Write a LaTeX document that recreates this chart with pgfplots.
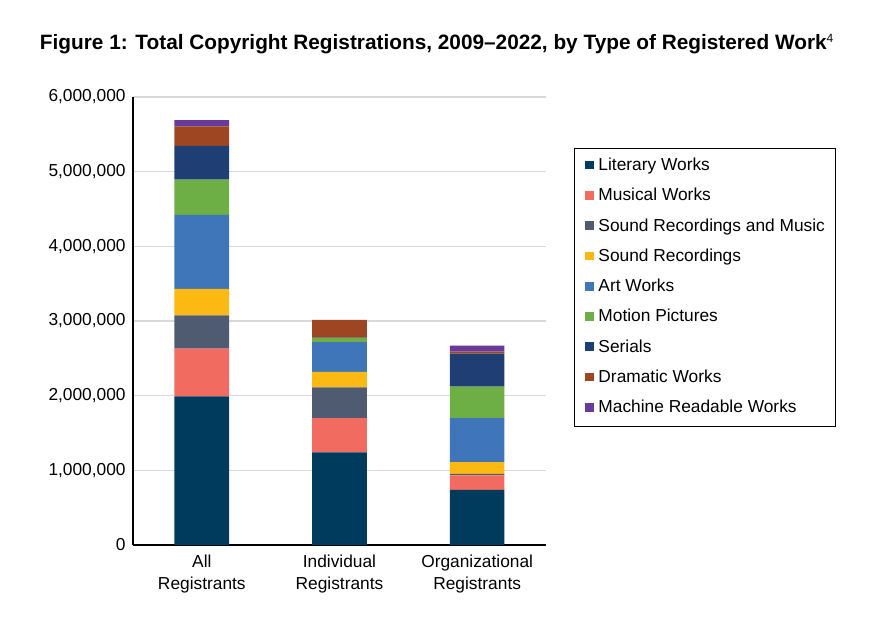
\documentclass[border=0pt]{standalone}
\usepackage{fontspec}
\setmainfont{Liberation Sans}
\usepackage{pgfplots}
\pgfplotsset{compat=1.18}

\definecolor{litc}{HTML}{003A5C}
\definecolor{musc}{HTML}{F26B61}
\definecolor{srmc}{HTML}{4F5B70}
\definecolor{sndc}{HTML}{FDB913}
\definecolor{artc}{HTML}{3F76BA}
\definecolor{motc}{HTML}{6DAE45}
\definecolor{serc}{HTML}{1F3F74}
\definecolor{drac}{HTML}{9E4521}
\definecolor{macc}{HTML}{6A3A9A}
\definecolor{gridc}{HTML}{D9D9D9}

\begin{document}
\begin{tikzpicture}[x=1pt,y=1pt]
\useasboundingbox (-99.75,-57.75) rectangle (558.75,408.75);
\begin{axis}[
    at={(0,0)}, anchor=south west,
    scale only axis,
    width=309.75pt, height=336pt,
    ybar stacked,
    bar width=41pt,
    xmin=-0.5, xmax=2.5,
    ymin=0, ymax=6000000,
    xtick={0,1,2},
    xticklabels={All\\Registrants, Individual\\Registrants, Organizational\\Registrants},
    xticklabel style={align=center, font=\fontsize{13}{16.5}\selectfont, yshift=-4pt},
    ytick={0,1000000,2000000,3000000,4000000,5000000,6000000},
    scaled y ticks=false,
    yticklabel style={font=\fontsize{13}{15}\selectfont, xshift=-2pt},
    /pgf/number format/.cd, fixed, 1000 sep={,}, assume math mode=true,
    /pgfplots/.cd,
    ymajorgrids,
    grid style={gridc, line width=0.8pt},
    axis lines*=left,
    axis line style={black, line width=0.8pt},
    major tick length=0pt,
    legend cell align=left,
    legend style={at={(1.068,0.886)}, anchor=north west,
        draw=black, line width=0.6pt,
        font=\fontsize{13}{15}\selectfont,
        inner xsep=8pt, inner ysep=7pt,
        row sep=10.2pt,
        nodes={inner sep=0pt, text height=9.5pt, text depth=3pt}},
    legend image code/.code={\fill[#1] (0pt,-2.5pt) rectangle (6.5pt,4pt);
        \path (10pt,0pt);},
    every axis plot/.append style={draw=none},
]
\addplot[fill=litc] coordinates {(0,1990000) (1,1239000) (2,738000)};
\addplot[fill=musc] coordinates {(0,640000) (1,461000) (2,193000)};
\addplot[fill=srmc] coordinates {(0,447000) (1,412000) (2,22000)};
\addplot[fill=sndc] coordinates {(0,354000) (1,206000) (2,157000)};
\addplot[fill=artc] coordinates {(0,989000) (1,398000) (2,590000)};
\addplot[fill=motc] coordinates {(0,474000) (1,58000) (2,421000)};
\addplot[fill=serc] coordinates {(0,452000) (1,5000) (2,443000)};
\addplot[fill=drac] coordinates {(0,259000) (1,232000) (2,27000)};
\addplot[fill=macc] coordinates {(0,85000) (1,5000) (2,80000)};
\legend{Literary Works, Musical Works, Sound Recordings and Music, Sound Recordings, Art Works, Motion Pictures, Serials, Dramatic Works, Machine Readable Works}
\end{axis}
\node[font=\bfseries\fontsize{15.6}{18}\selectfont] at (228,375.75)
    {Figure 1: Total Copyright Registrations, 2009--2022, by Type of Registered Work\textsuperscript{\normalfont\fontsize{9}{9}\selectfont 4}};
\end{tikzpicture}
\end{document}
